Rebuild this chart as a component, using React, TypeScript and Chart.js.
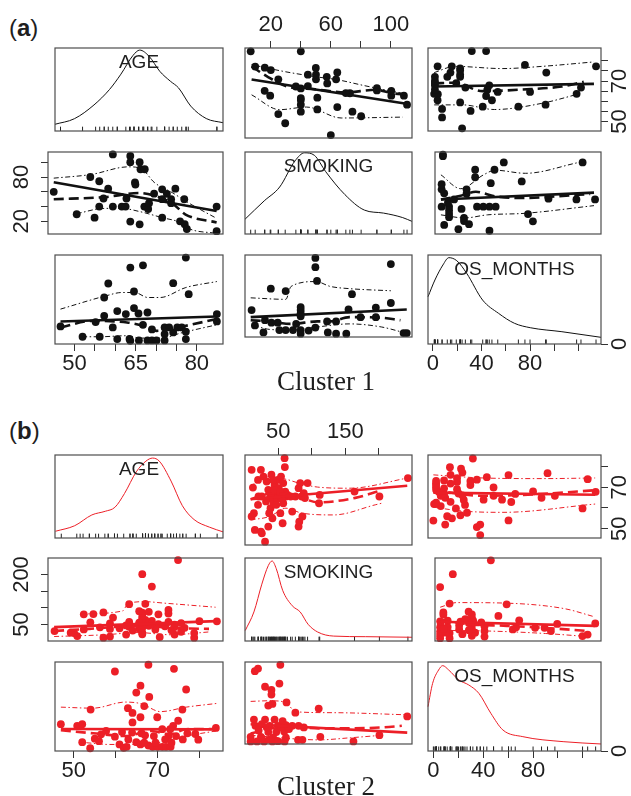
import React, { useEffect, useRef } from 'react';
import { Chart, registerables } from 'chart.js';
Chart.register(...registerables);

type Pt = [number, number];
type Lines = { fit: Pt[]; smooth: Pt[]; up: Pt[]; lo: Pt[] };
type AxisDef = { side: 'top' | 'bottom' | 'left' | 'right'; ticks: number[]; labels: string[] };

const BLACK = '#111111';
const RED = '#EC1F27';
const RUG = '#222222';
const VARS = ['AGE', 'SMOKING', 'OS_MONTHS'];

// ---------- layout ----------
const COLS: Pt[] = [[48, 223], [238, 412], [428, 601]];
const ROWS_A: Pt[] = [[48, 138], [152, 241], [255, 344]];
const ROWS_B: Pt[] = [[455, 545], [558, 648], [662, 751]];

// ---------- axis ranges ----------
const RANGE_AGE_1: Pt = [45.25, 86.4];
const RANGE_SMK_1: Pt = [2.8, 114.1];
const RANGE_OS_1: Pt = [-4.1, 138.5];
const RANGE_AGE_2: Pt = [45.5, 85.6];
const RANGE_SMK_2: Pt = [0.5, 249.5];
const RANGE_OS_2: Pt = [-4.3, 134.5];

// ---------- ticks ----------
const AGE_TICKS_1 = [50, 55, 60, 65, 70, 75, 80];
const SMK_TICKS_1 = [20, 40, 60, 80, 100];
const OS_TICKS = [0, 20, 40, 60, 80, 100, 120];
const AGE_TICKS_2 = [50, 60, 70, 80];
const SMK_TICKS_2 = [50, 100, 150, 200];

// ---------- cluster 1 data ----------
const AGE_SMK_1: Pt[] = [
  [46.6, 60], [52.0, 29.6], [55.2, 80.2], [56.2, 25], [57.3, 74.4], [57.3, 40], [58.3, 51], [59.4, 64.3],
  [60.5, 110.8], [60.5, 40], [62.6, 40], [63.5, 40], [63.7, 51], [64.6, 108.7], [64.6, 100.3], [64.6, 19.6],
  [65.7, 72.7], [65.8, 70], [66.8, 100.3], [66.8, 15.9], [67, 90.7], [68, 90.7], [67.9, 40], [68.8, 36.7],
  [69, 44.7], [70.2, 57.6], [72.1, 63.5], [72.1, 50.1], [72.1, 25], [73.2, 57.3], [74.2, 50.1], [74.2, 44.7],
  [75.2, 64.3], [76.3, 20], [77.3, 50], [77.4, 16], [77.9, 9.6], [84.9, 40], [84.9, 6.6],
];
const AGE_OS_1: Pt[] = [
  [46.6, 24], [52.0, 7.5], [55.2, 31], [56.2, 7.5], [57.3, 41], [57.3, 70.4], [58.3, 92.8], [59.4, 22.4],
  [60.5, 48.6], [60.5, 3.8], [62.6, 43.8], [63.7, 118.4], [63.5, 4], [63.7, 1], [64.6, 80], [64.6, 53.4],
  [65.7, 44.8], [65.8, 1.6], [66.8, 122], [66.8, 26.7], [67.9, 46.4], [67.9, 1.6], [69, 19.2], [69, 1.6],
  [70.1, 1.6], [72.1, 22.4], [72.1, 11.8], [72.1, 1.6], [73.2, 22.4], [74.2, 93.4], [74.2, 14.4], [75.2, 22.4],
  [76.3, 22.4], [77.3, 134.4], [77.3, 3.8], [77.3, 15.5], [78, 75.8], [84.9, 43.8], [84.9, 32],
];
const SMK_OS_1: Pt[] = [
  [7.2, 42.7], [9.4, 16], [15.1, 3.8], [16.1, 25.1], [20, 80], [20.4, 20.8], [24.6, 20.8], [25.7, 8],
  [29.9, 75.8], [29.9, 8], [34.8, 8], [36.9, 18.7], [39.9, 48], [39.9, 42.7], [39.9, 37.4], [39.9, 32],
  [39.9, 8], [39.9, 1.6], [45.2, 7], [49.7, 12.3], [49.7, 133.4], [49.7, 117.4], [50.8, 93.4], [57.5, 23],
  [58, 3.8], [63.5, 23], [63.5, 1.6], [70.3, 1.6], [71.8, 43.8], [74.1, 70.4], [79.8, 30.4], [90, 47],
  [90, 30.4], [100, 55], [100, 122.7], [108.5, 2.7], [110.6, 2.7],
];

// density curves (y = share of panel height)
const DENS_AGE_1: Pt[] = [[45.25, 0.081], [50, 0.148], [54.8, 0.314], [58.6, 0.5], [61.4, 0.685], [64.3, 0.907], [66, 0.975], [68.3, 0.9], [70.9, 0.72], [73.5, 0.6], [75.5, 0.52], [78.5, 0.3], [82.3, 0.15], [86.4, 0.1]];
const DENS_SMK_1: Pt[] = [[2.8, 0.18], [15.6, 0.404], [25.9, 0.573], [36.1, 0.891], [42.5, 0.99], [49, 0.96], [56.6, 0.76], [69.4, 0.48], [82.3, 0.292], [95.1, 0.255], [107.9, 0.2], [114.1, 0.154]];
const DENS_OS_1: Pt[] = [[-4.1, 0.531], [1.6, 0.719], [8.2, 0.888], [13.1, 0.97], [19.6, 0.936], [27.8, 0.794], [40.9, 0.494], [54, 0.345], [67.1, 0.233], [80.2, 0.183], [106.3, 0.138], [138.5, 0.075]];

// fitted lines per panel (row, col) -> x = col variable, y = row variable
const A01: Lines = {
  fit: [[7.2, 72], [110.4, 60.9]],
  smooth: [[7.2, 78], [18.2, 73.1], [31, 68.8], [50, 67.5], [69.4, 66.1], [90, 67.3], [100.2, 65.8], [110.4, 65]],
  up: [[7.2, 78.8], [28.5, 75.7], [51.5, 73.1], [64.3, 71.9], [82.3, 69.2], [109.2, 65.5]],
  lo: [[7.2, 65], [25.9, 58.2], [43.8, 59.4], [66.9, 54.4], [107.9, 54.8]],
};
const A02: Lines = {
  fit: [[1, 67.3], [132.7, 68.6]],
  smooth: [[1, 68.8], [18, 69.2], [40.9, 65], [73.6, 65.8], [106.3, 67.3], [124.3, 69.6]],
  up: [[1, 74.2], [18, 77.3], [57.2, 76.2], [90, 77.3], [132.7, 79.5]],
  lo: [[1, 58.2], [24.5, 58.2], [50.7, 55.9], [90, 59], [119.4, 63.5]],
};
const A10: Lines = {
  fit: [[46.6, 73], [84.9, 34]],
  smooth: [[46.6, 50], [58.8, 53], [66.7, 58.5], [70.6, 54.2], [74.6, 43.8], [77.6, 29.2], [84.9, 18.4]],
  up: [[46.6, 78.6], [55.4, 83.6], [64.2, 94], [67.4, 90.7], [70.2, 73], [74.6, 58.5], [78, 46], [84.9, 24]],
  lo: [[52, 30.4], [58.6, 37.6], [62.5, 37.6], [66.7, 33.4], [72.1, 25], [76.2, 18.7], [78.6, 9.6], [84.9, 3.7]],
};
const A12: Lines = {
  fit: [[1, 49.7], [132.5, 58.9]],
  smooth: [[1, 49.7], [18, 54.7], [31, 60.1], [47.5, 53.9], [73.5, 51.7], [99.8, 53.9], [129.2, 57.2]],
  up: [[1, 83.1], [18, 64.3], [37.6, 83.1], [47.5, 89.4], [73.5, 85.2], [119.4, 99.9]],
  lo: [[1, 28.8], [21.3, 24.6], [40.9, 28.8], [73.5, 30.9], [132.5, 41.3]],
};
const A20: Lines = {
  fit: [[46.6, 32], [84.9, 40]],
  smooth: [[46.6, 22.4], [54.4, 33], [62.9, 30.4], [66.8, 25.1], [70.1, 17], [74, 19.8], [77.3, 25], [84.9, 36]],
  up: [[46.6, 51.8], [57.7, 73], [61.6, 78.4], [64.8, 78.4], [68, 70.4], [71, 70.4], [77.3, 86.4], [84.9, 96]],
  lo: [[51.9, 7.5], [56.2, 7.5], [62.5, 9.1], [66.4, 5.4], [71.1, 5.4], [76.6, 14.4], [84.9, 26.7]],
};
const A21: Lines = {
  fit: [[6.6, 30.4], [110.6, 43.8]],
  smooth: [[6.6, 25.1], [18.7, 23], [33.5, 18.7], [51.1, 23], [59.7, 23], [72.4, 30.4], [93.6, 29.4], [106.4, 25.1]],
  up: [[6.6, 64], [30, 61.4], [33.5, 83.8], [50.1, 92.3], [59.7, 83.8], [72.4, 80], [100, 76.3]],
  lo: [[8.7, 16], [19.3, 9.1], [33.5, 8], [51.1, 13.4], [72.4, 18.7], [93.6, 13.4], [108.5, 3.8]],
};

// ---------- cluster 2 data ----------
const AGE_SMK_2: Pt[] = [
  [79, 10.4], [71.1, 12.3], [59.7, 13.8], [58.2, 10.4], [52.2, 15.2], [74.5, 19.9], [63.4, 19.9], [79, 24.2],
  [51.5, 24.2], [50.7, 25.6], [47, 30.4], [76, 28.1], [73.8, 32.8], [70.1, 35.2], [53.7, 35.2], [66.4, 37.5],
  [61.9, 38.5], [76.8, 39.9], [57.4, 41.4], [64.1, 43.2], [72.3, 44.6], [68.6, 46.1], [63.4, 47.1], [74.5, 49.5],
  [70.8, 50.9], [66.4, 51.8], [59.7, 53.2], [76, 54.2], [55.2, 56.6], [73.1, 57.5], [64.1, 57.5], [84.2, 59.5],
  [80.2, 59.9], [69.3, 60.5], [67.1, 61.5], [67.8, 63.8], [67.1, 68.5], [60.4, 70.9], [67.1, 75.6], [70.8, 80.4],
  [53.7, 80.4], [55.9, 81.4], [73.1, 82.8], [67.1, 85.2], [58.2, 86.1], [66.4, 89.9], [73.1, 93.8], [68.6, 88.1],
  [67.8, 111.9], [64.1, 110.9], [69.3, 163.8], [67.1, 200.9], [75.3, 243.4], [67.1, 20.6], [67.1, 25.6], [64.9, 31.9],
  [67.1, 40.4], [70.1, 43.8], [66.4, 48.1], [66.4, 55.2], [74.5, 42.4], [59.7, 36.6], [69.3, 52.8],
];
const AGE_OS_2: Pt[] = [
  [46.9, 37.6], [50.8, 34.9], [52, 37.6], [52, 9.5], [53.9, 0], [54, 60.3], [55, 14.9], [56, 11.1],
  [56.5, 21.7], [57.7, 27], [59.8, 119.7], [59.8, 18.1], [60.9, 5.9], [61.9, 0.6], [62.9, 62.5], [64, 55.1],
  [64, 40.3], [63.9, 24.4], [64.9, 9.5], [64.9, 86.8], [65.9, 97.5], [65.9, 48.3], [65.9, 5.9], [66.8, 65.7],
  [67, 20.2], [67.8, 130.2], [68, 80], [67.8, 4.3], [68.8, 2.2], [69.1, 19], [69.9, 48.3], [70, 2.2],
  [71.1, 29.7], [71.1, 2.2], [72, 2.2], [72.6, 19], [73, 29.7], [73.1, 2.2], [73.7, 34.9], [73.9, 123.8],
  [74.9, 42.9], [76, 13.8], [76.8, 91.6], [75.9, 60.3], [77.1, 23.3], [61.5, 25.4], [62.6, 2.2], [66.1, 23.3],
  [63, 13.8], [66.8, 8.6], [69.5, 8.6], [71.8, 13.8], [73.3, 8.6], [74.4, 19], [83.9, 31.7], [79, 22.2], [79.7, 13.3],
];
const SMK_OS_2: Pt[] = [
  [15.2, 119], [19.9, 123.3], [53.2, 129.7], [51.8, 97.9], [30.4, 92.6], [39.9, 87.3], [39.9, 79.4], [35.2, 60.8],
  [41.4, 63.5], [62.4, 66.1], [110.4, 55.6], [75.6, 48.7], [242.4, 42.4], [13.8, 37.1], [30.4, 37.1], [44.6, 37.1],
  [56.6, 34.4], [16.1, 26.5], [25.6, 29.2], [37.5, 26.5], [49.5, 26.5], [61.5, 27.6], [70.9, 26.5], [80.4, 26.5],
  [88.2, 23.8], [20.9, 18.6], [35.2, 15.9], [47.1, 15.9], [58.9, 17], [8.9, 7.9], [24.2, 7.9], [42.4, 6.3],
  [61.5, 6.3], [79.5, 2.7], [86.1, 2.7], [112.8, 7.9], [162.2, 0], [200.9, 10.6], [8.9, 0], [18.5, 0],
  [28.9, 0], [41.4, 0], [49.5, 0.5], [59.5, 0], [32.8, 24], [54.2, 24], [66.1, 21], [25.6, 5], [36.6, 3],
];

const DENS_AGE_2: Pt[] = [[45.6, 0.081], [50.2, 0.148], [54.3, 0.278], [57.5, 0.322], [59.8, 0.37], [62.1, 0.537], [64.9, 0.797], [67.2, 0.926], [68.8, 0.963], [70.4, 0.926], [73.2, 0.686], [75.9, 0.389], [78.7, 0.222], [82.4, 0.13], [85.6, 0.074]];
const DENS_SMK_2: Pt[] = [[0.9, 0.126], [13.8, 0.35], [25.6, 0.685], [35.2, 0.908], [40.9, 0.964], [47.1, 0.872], [56.6, 0.611], [70.9, 0.425], [82.8, 0.35], [94.6, 0.201], [108.9, 0.108], [132.8, 0.059], [180.4, 0.052], [249.5, 0.045]];
const DENS_OS_2: Pt[] = [[-4.3, 0.498], [-0.6, 0.76], [4.2, 0.91], [7.5, 0.959], [12.3, 0.91], [20.4, 0.798], [28.4, 0.742], [36.5, 0.648], [46.1, 0.424], [55.8, 0.236], [71.8, 0.161], [104.1, 0.105], [134.5, 0.079]];

const B01: Lines = {
  fit: [[8.9, 65.9], [242.4, 71.9]],
  smooth: [[8.9, 65.9], [42, 68.5], [75, 67.5], [110, 64.5], [165, 66.5], [200, 69.5]],
  up: [[8.9, 71.5], [28.1, 76], [61.5, 74.8], [80.4, 73.1], [108.9, 71.3], [156.6, 70.8], [242.4, 75.3]],
  lo: [[8.9, 56.7], [37.5, 58.2], [61.5, 61.9], [85.2, 59.7], [132.8, 58.9], [194.7, 63.4], [204.2, 64.1]],
};
const B02: Lines = {
  fit: [[0, 67.4], [129.8, 66.4]],
  smooth: [[0, 68.6], [39.7, 65.9], [88, 66.8], [129.8, 68.6]],
  up: [[0, 76], [39.7, 74.5], [88, 74.2], [129.8, 74.5]],
  lo: [[0, 60.4], [23.6, 58.5], [55.8, 57.9], [129.8, 61.9]],
};
const B10: Lines = {
  fit: [[46.9, 42], [84, 60]],
  smooth: [[46.9, 30.5], [55, 37], [65, 45], [72, 42], [78, 38], [82.4, 37]],
  up: [[53, 81.5], [62.6, 90.7], [63.8, 112.1], [67.6, 118.5], [72.2, 114], [83.9, 101.8]],
  lo: [[46.9, 14], [58.5, 19.2], [66.1, 25.8], [73.7, 19.2], [82.4, 27.7]],
};
const B12: Lines = {
  fit: [[0, 58.4], [129.8, 46]],
  smooth: [[0, 64.8], [23.6, 50.8], [55.8, 46], [88, 39.7], [123.4, 30.5]],
  up: [[0, 101.8], [13.9, 115.7], [55.8, 114], [104.1, 97.4], [128.2, 74]],
  lo: [[0, 32.2], [39.7, 30.5], [88, 23], [123.4, 13.8]],
};
const B20: Lines = {
  fit: [[46.9, 30], [84, 29.5]],
  smooth: [[46.9, 28], [54.6, 23.3], [62.3, 19], [68.4, 27], [73, 21.7], [76.8, 29.7], [84, 30]],
  up: [[46.9, 64.1], [54.6, 62.5], [62.3, 72], [66.1, 69.4], [70.7, 57.1], [76.8, 64.1], [84, 69.8]],
  lo: [[53, 8.6], [58.5, 5.9], [66.1, 5.9], [72, 11.1], [76.8, 19], [84, 27]],
};
const B21: Lines = {
  fit: [[8.9, 29.2], [242.4, 14.9]],
  smooth: [[8.9, 13.3], [37.5, 21.3], [61.5, 26.5], [110.4, 22.2], [158.1, 22.2], [205.7, 23.8], [234.3, 26.5]],
  up: [[8.9, 67.8], [37.5, 68.9], [61.5, 66.1], [75.6, 50.3], [132.8, 48.7], [242.4, 45.1]],
  lo: [[8.9, 10.6], [61.5, 5.4], [110.4, 2.7], [158.1, 6.3], [205.7, 10.6]],
};

// ---------- cluster definitions ----------
interface ClusterDef {
  rows: Pt[];
  ranges: Pt[];
  color: string;
  pairs: Record<string, Pt[]>;
  lines: Record<string, Lines>;
  dens: Pt[][];
  rug: number[][];
  axes: Record<string, AxisDef[]>;
}

const CL1: ClusterDef = {
  rows: ROWS_A,
  ranges: [RANGE_AGE_1, RANGE_SMK_1, RANGE_OS_1],
  color: BLACK,
  pairs: { '01': AGE_SMK_1, '02': AGE_OS_1, '12': SMK_OS_1 },
  lines: { '01': A01, '02': A02, '10': A10, '12': A12, '20': A20, '21': A21 },
  dens: [DENS_AGE_1, DENS_SMK_1, DENS_OS_1],
  rug: [AGE_SMK_1.map((p) => p[0]), AGE_SMK_1.map((p) => p[1]), AGE_OS_1.map((p) => p[1])],
  axes: {
    '01': [{ side: 'top', ticks: SMK_TICKS_1, labels: ['20', '60', '100'] }],
    '02': [{ side: 'right', ticks: AGE_TICKS_1, labels: ['50', '70'] }],
    '10': [{ side: 'left', ticks: SMK_TICKS_1, labels: ['20', '80'] }],
    '20': [{ side: 'bottom', ticks: AGE_TICKS_1, labels: ['50', '65', '80'] }],
    '22': [
      { side: 'bottom', ticks: OS_TICKS, labels: ['0', '40', '80'] },
      { side: 'right', ticks: OS_TICKS, labels: ['0', '80'] },
    ],
  },
};

const CL2: ClusterDef = {
  rows: ROWS_B,
  ranges: [RANGE_AGE_2, RANGE_SMK_2, RANGE_OS_2],
  color: RED,
  pairs: { '01': AGE_SMK_2, '02': AGE_OS_2, '12': SMK_OS_2 },
  lines: { '01': B01, '02': B02, '10': B10, '12': B12, '20': B20, '21': B21 },
  dens: [DENS_AGE_2, DENS_SMK_2, DENS_OS_2],
  rug: [AGE_SMK_2.map((p) => p[0]), AGE_SMK_2.map((p) => p[1]), AGE_OS_2.map((p) => p[1])],
  axes: {
    '01': [{ side: 'top', ticks: SMK_TICKS_2, labels: ['50', '150'] }],
    '02': [{ side: 'right', ticks: AGE_TICKS_2, labels: ['50', '70'] }],
    '10': [{ side: 'left', ticks: SMK_TICKS_2, labels: ['50', '200'] }],
    '20': [{ side: 'bottom', ticks: AGE_TICKS_2, labels: ['50', '70'] }],
    '22': [
      { side: 'bottom', ticks: OS_TICKS, labels: ['0', '40', '80'] },
      { side: 'right', ticks: OS_TICKS, labels: ['0', '60'] },
    ],
  },
};

// ---------- panel rendering ----------
const AX_FONT = '22px "Liberation Sans", Arial, Helvetica, sans-serif';
const VAR_FONT = '19px "Liberation Sans", Arial, Helvetica, sans-serif';
const AXIS_MARGIN: Record<string, number> = { top: 48, bottom: 40, left: 48, right: 30 };
const PLAIN_MARGIN = 8;
const TICK_LEN = 7;

interface PanelSpec {
  left: number; top: number; w: number; h: number;
  xr: Pt; yr: Pt;
  datasets: any[];
  axes: AxisDef[];
  title?: string;
}

const decoPlugin = {
  id: 'panelDeco',
  afterDatasetsDraw(chart: any, _args: any, opts: any) {
    const { ctx, chartArea: ca, scales } = chart;
    ctx.save();
    ctx.strokeStyle = '#4d4d4d';
    ctx.lineWidth = 1.2;
    ctx.strokeRect(ca.left, ca.top, ca.right - ca.left, ca.bottom - ca.top);
    ctx.fillStyle = '#1e1e1e';
    ctx.font = AX_FONT;
    ctx.textAlign = 'center';
    ctx.textBaseline = 'middle';
    for (const a of (opts.axes || []) as AxisDef[]) {
      for (const lab of a.labels) {
        const v = Number(lab);
        if (a.side === 'top' || a.side === 'bottom') {
          const x = scales.x.getPixelForValue(v);
          const y = a.side === 'top' ? ca.top - 23.5 : ca.bottom + 19.5;
          ctx.fillText(lab, x, y);
        } else {
          const y = scales.y.getPixelForValue(v);
          const x = a.side === 'left' ? ca.left - 26 : ca.right + 19;
          ctx.save();
          ctx.translate(x, y);
          ctx.rotate(-Math.PI / 2);
          ctx.fillText(lab, 0, 0);
          ctx.restore();
        }
      }
    }
    if (opts.title) {
      ctx.font = VAR_FONT;
      ctx.fillText(opts.title, (ca.left + ca.right) / 2, ca.top + 15);
    }
    ctx.restore();
  },
};

function mkScale(r: Pt, ax: AxisDef | undefined, dir: 'x' | 'y') {
  return {
    type: 'linear',
    min: r[0],
    max: r[1],
    display: !!ax,
    position: ax ? ax.side : dir === 'x' ? 'bottom' : 'left',
    grid: { drawOnChartArea: false, drawTicks: true, tickLength: TICK_LEN, color: '#333333', lineWidth: 1 },
    border: { display: false },
    ticks: { display: false },
    afterBuildTicks: (s: any) => {
      if (ax) s.ticks = ax.ticks.map((v) => ({ value: v }));
    },
    afterFit: (s: any) => {
      if (dir === 'x') s.height = TICK_LEN;
      else s.width = TICK_LEN;
    },
  };
}

function Panel({ spec }: { spec: PanelSpec }) {
  const ref = useRef<HTMLCanvasElement>(null);
  const sides = ['top', 'right', 'bottom', 'left'];
  const has = (s: string) => spec.axes.some((a) => a.side === s);
  const m: Record<string, number> = {};
  sides.forEach((s) => (m[s] = has(s) ? AXIS_MARGIN[s] : PLAIN_MARGIN));
  const cw = spec.w + m.left + m.right;
  const ch = spec.h + m.top + m.bottom;

  useEffect(() => {
    if (!ref.current) return;
    const pad: Record<string, number> = {};
    sides.forEach((s) => (pad[s] = has(s) ? m[s] - TICK_LEN : m[s]));
    const xa = spec.axes.find((a) => a.side === 'top' || a.side === 'bottom');
    const ya = spec.axes.find((a) => a.side === 'left' || a.side === 'right');
    const chart = new Chart(ref.current, {
      type: 'scatter',
      data: { datasets: spec.datasets },
      options: {
        animation: false,
        responsive: false,
        maintainAspectRatio: false,
        devicePixelRatio: 1,
        events: [],
        layout: { padding: pad, autoPadding: false },
        plugins: {
          legend: { display: false },
          tooltip: { enabled: false },
          panelDeco: { axes: spec.axes, title: spec.title },
        } as any,
        scales: { x: mkScale(spec.xr, xa, 'x'), y: mkScale(spec.yr, ya, 'y') } as any,
      },
      plugins: [decoPlugin],
    });
    return () => chart.destroy();
  }, []);

  return (
    <canvas
      ref={ref}
      width={cw}
      height={ch}
      style={{ position: 'absolute', left: spec.left - m.left, top: spec.top - m.top, width: cw, height: ch }}
    />
  );
}

const xy = (p: Pt) => ({ x: p[0], y: p[1] });

function lineDs(pts: Pt[], color: string, kind: 'fit' | 'smooth' | 'spread') {
  return {
    data: pts.map(xy),
    showLine: true,
    pointRadius: 0,
    pointHoverRadius: 0,
    borderColor: color,
    borderWidth: kind === 'spread' ? 1 : 2.6,
    borderDash: kind === 'smooth' ? [10, 5] : kind === 'spread' ? [5, 2.5, 1.5, 2.5] : [],
    cubicInterpolationMode: kind === 'fit' ? 'default' : 'monotone',
    clip: 3,
  };
}

function buildCluster(c: ClusterDef): PanelSpec[] {
  const out: PanelSpec[] = [];
  for (let i = 0; i < 3; i++) {
    for (let j = 0; j < 3; j++) {
      const [l, r] = COLS[j];
      const [t, b] = c.rows[i];
      const key = `${i}${j}`;
      const axes = c.axes[key] || [];
      if (i === j) {
        const h = b - t;
        out.push({
          left: l, top: t, w: r - l, h,
          xr: c.ranges[i], yr: [0, 1], axes, title: VARS[i],
          datasets: [
            {
              data: c.dens[i].map(xy), showLine: true, pointRadius: 0, pointHoverRadius: 0,
              borderColor: c.color, borderWidth: 1, cubicInterpolationMode: 'monotone', clip: 10,
            },
            {
              data: c.rug[i].map((v) => ({ x: v, y: 2.3 / h })), showLine: false,
              pointStyle: 'line', pointRotation: 90, pointRadius: 2.2,
              pointBorderColor: RUG, pointBorderWidth: 1, pointHoverRadius: 0,
            },
          ],
        });
      } else {
        const raw = c.pairs[i < j ? `${i}${j}` : `${j}${i}`];
        const pts: Pt[] = j < i ? raw : raw.map((p) => [p[1], p[0]] as Pt);
        const L = c.lines[key];
        out.push({
          left: l, top: t, w: r - l, h: b - t,
          xr: c.ranges[j], yr: c.ranges[i], axes,
          datasets: [
            lineDs(L.fit, c.color, 'fit'),
            lineDs(L.smooth, c.color, 'smooth'),
            lineDs(L.up, c.color, 'spread'),
            lineDs(L.lo, c.color, 'spread'),
            {
              data: pts.map(xy), showLine: false, pointRadius: 3.9, pointHoverRadius: 0,
              pointBackgroundColor: c.color, pointBorderWidth: 0, clip: 6,
            },
          ],
        });
      }
    }
  }
  return out;
}

const SPECS: PanelSpec[] = [...buildCluster(CL1), ...buildCluster(CL2)];

const tagStyle: React.CSSProperties = {
  position: 'absolute', left: 9, fontFamily: '"Liberation Sans", Arial, Helvetica, sans-serif',
  fontSize: 24, lineHeight: '24px', color: '#1e1e1e', whiteSpace: 'nowrap',
};
const capStyle: React.CSSProperties = {
  position: 'absolute', left: 226, width: 200, textAlign: 'center',
  fontFamily: '"Liberation Serif", "DejaVu Serif", serif', fontSize: 27, lineHeight: '30px', color: '#1e1e1e',
};

export default function App() {
  return (
    <div style={{ position: 'absolute', left: 0, top: 0, width: 631, height: 796, overflow: 'hidden', background: '#ffffff' }}>
      {SPECS.map((s, k) => (
        <Panel key={k} spec={s} />
      ))}
      <div style={{ ...tagStyle, top: 16 }}>(<b>a</b>)</div>
      <div style={{ ...tagStyle, top: 419 }}>(<b>b</b>)</div>
      <div style={{ ...capStyle, top: 366 }}>Cluster 1</div>
      <div style={{ ...capStyle, top: 771 }}>Cluster 2</div>
    </div>
  );
}
